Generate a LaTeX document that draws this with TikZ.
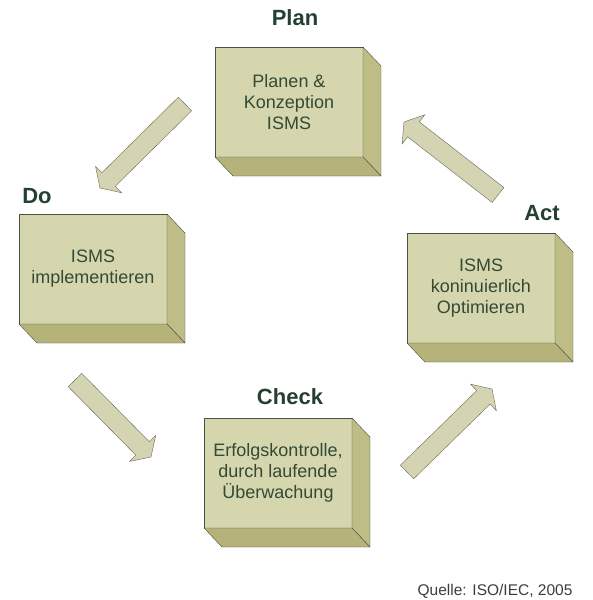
\documentclass[tikz,border=0pt]{standalone}
\usepackage{fontspec}
\setmainfont{Liberation Sans}
\usepackage{tikz}
\usetikzlibrary{
  positioning, calc
}

\definecolor{boxfront}{RGB}{214,214,174}
\definecolor{boxside}{RGB}{190,189,136}
\definecolor{boxbottom}{RGB}{181,179,122}
\definecolor{boxline}{RGB}{72,82,62}
\definecolor{labelgreen}{RGB}{36,64,48}
\definecolor{textgreen}{RGB}{50,74,54}
\definecolor{arrowfill}{RGB}{212,212,178}
\definecolor{quellegray}{RGB}{60,60,60}

\tikzset{
  frontface/.style={draw=boxline, fill=boxfront, minimum width=148pt,
    minimum height=110pt, inner sep=0pt, outer sep=0pt, align=center,
    text=textgreen, font=\fontsize{18}{21}\selectfont},
  sideface/.style={draw=boxline, fill=boxside, line join=round},
  bottomface/.style={draw=boxline, fill=boxbottom, line join=round},
  phase/.style={text=labelgreen, font=\fontsize{22}{26}\selectfont\bfseries},
  blockarrow/.style={draw=boxline!85, fill=arrowfill, line join=miter}
}

% Seiten- und Bodenflaeche eines Quaders
\newcommand{\quader}[1]{%
  \filldraw[sideface] (#1.north east) -- ++(18,19)
    -- ($(#1.south east)+(18,19)$) -- (#1.south east) -- cycle;
  \filldraw[bottomface] (#1.south west) -- (#1.south east)
    -- ++(18,19) -- ($(#1.south west)+(18,19)$) -- cycle;
}

% Blockpfeil von #1 (Ende) nach #2 (Spitze)
\newcommand{\blockpfeil}[2]{%
  \coordinate (#1base) at ($(#2)!12pt!(#1)$);
  \filldraw[blockarrow] ($(#1)!9.5pt!90:(#2)$)
    -- ($(#1base)!9.5pt!90:(#2)$) -- ($(#1base)!18.5pt!90:(#2)$)
    -- (#2)
    -- ($(#1base)!18.5pt!-90:(#2)$) -- ($(#1base)!9.5pt!-90:(#2)$)
    -- ($(#1)!9.5pt!-90:(#2)$) -- cycle;
}

\begin{document}
\begin{tikzpicture}[x=1pt,y=-1pt]
        \useasboundingbox (0,0) rectangle (593,600);

        % Quader
        \node[frontface] (plan) at (289,102) {Planen \&\\Konzeption\\ISMS};
        \quader{plan}
        \node[frontface] (do) at (93,269) {ISMS\\implementieren};
        \quader{do}
        \node[frontface] (act) at (481,288) {ISMS\\koninuierlich\\Optimieren};
        \quader{act}
        \node[frontface] (check) at (278,473) {Erfolgskontrolle,\\durch laufende\\Überwachung};
        \quader{check}

        % Phasen
        \node[phase] (planlabel) at (295,18) {Plan};
        \node[phase] (dolabel) at (37,196) {Do};
        \node[phase] (actlabel) at (542,213) {Act};
        \node[phase] (checklabel) at (290,397) {Check};

        % Pfeile
        \coordinate (plando) at (185,104);
        \coordinate (plandotip) at (100,188);
        \blockpfeil{plando}{plandotip}
        \coordinate (docheck) at (75,380);
        \coordinate (dochecktip) at (151,457);
        \blockpfeil{docheck}{dochecktip}
        \coordinate (checkact) at (407,472);
        \coordinate (checkacttip) at (492,389);
        \blockpfeil{checkact}{checkacttip}
        \coordinate (actplan) at (498,195);
        \coordinate (actplantip) at (404,122);
        \blockpfeil{actplan}{actplantip}

        \node[text=quellegray, font=\fontsize{15.5}{18}\selectfont]
          (quelle) at (495,591) {Quelle: ISO/IEC, 2005};
    \end{tikzpicture}
\end{document}
